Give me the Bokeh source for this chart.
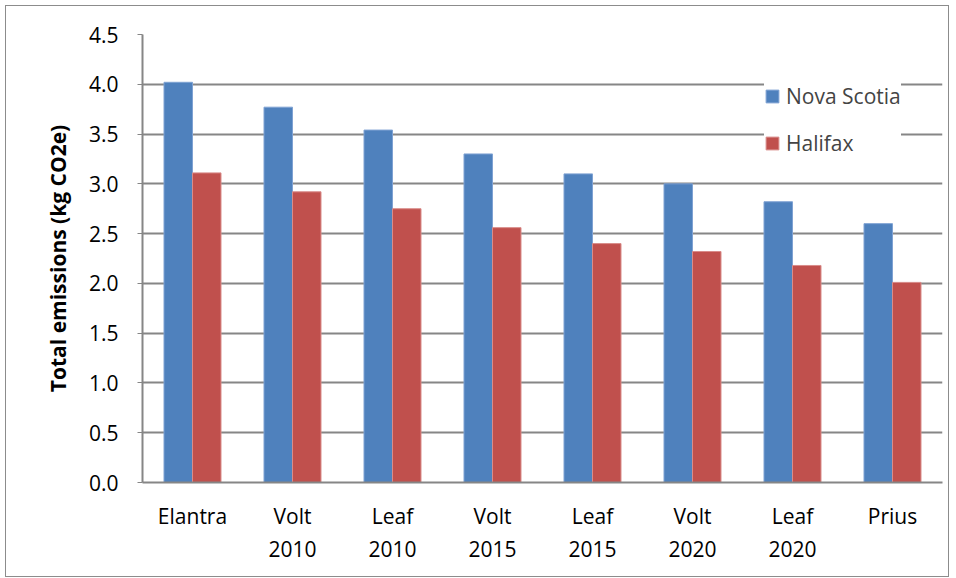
from bokeh.plotting import figure
from bokeh.models import ColumnDataSource, Range1d, FixedTicker, NumeralTickFormatter, Legend, LegendItem
from bokeh.embed import file_html
from bokeh.resources import INLINE

categories = ["Elantra", "Volt\n2010", "Leaf\n2010", "Volt\n2015", "Leaf\n2015", "Volt\n2020", "Leaf\n2020", "Prius"]
nova_scotia = [4.02, 3.77, 3.54, 3.30, 3.10, 3.00, 2.82, 2.60]
halifax = [3.11, 2.92, 2.75, 2.56, 2.40, 2.32, 2.18, 2.01]
y_ticks = [0.0, 0.5, 1.0, 1.5, 2.0, 2.5, 3.0, 3.5, 4.0, 4.5]

FONT = "Open Sans"
BLUE = "#4F81BD"
RED = "#C0504D"

centers = [i + 0.5 for i in range(len(categories))]
bw = 0.285
src = ColumnDataSource(dict(
    xb=[c - bw / 2 for c in centers],
    xr=[c + bw / 2 for c in centers],
    ns=nova_scotia,
    hf=halifax,
))

p = figure(width=944, height=572, output_backend="svg", toolbar_location=None,
           x_range=Range1d(0, len(categories)), y_range=Range1d(0, 4.5),
           min_border_left=136, min_border_right=8, min_border_top=28, min_border_bottom=96)
p.styles = {"border": "1px solid #8c8c8c", "box-sizing": "border-box", "margin": "5px 0 0 5px"}
p.outline_line_color = None
p.background_fill_color = "white"
p.border_fill_color = "white"

rb = p.vbar(x="xb", top="ns", width=bw, bottom=0, source=src, fill_color=BLUE, line_color="#7fa2d3", line_width=1)
rr = p.vbar(x="xr", top="hf", width=bw, bottom=0, source=src, fill_color=RED, line_color="#d98c8a", line_width=1)

# grid
p.xgrid.visible = False
p.ygrid.grid_line_color = "#868686"
p.ygrid.grid_line_width = 2
p.yaxis.ticker = FixedTicker(ticks=y_ticks)
p.yaxis.formatter = NumeralTickFormatter(format="0.0")

# axes
for ax in (p.xaxis, p.yaxis):
    ax.axis_line_color = "#868686"
    ax.axis_line_width = 2
    ax.major_label_text_font = FONT
    ax.major_label_text_font_size = "21px"
    ax.major_label_text_color = "black"
    ax.minor_tick_line_color = None

p.yaxis.major_tick_line_color = "#868686"
p.yaxis.major_tick_in = 0
p.yaxis.major_tick_out = 5
p.yaxis.major_label_standoff = 19
p.yaxis.axis_label = "Total emissions (kg CO2e)"
p.yaxis.axis_label_text_font = FONT
p.yaxis.axis_label_text_font_style = "bold"
p.yaxis.axis_label_text_font_size = "21px"
p.yaxis.axis_label_text_color = "black"
p.yaxis.axis_label_standoff = 14

p.xaxis.ticker = FixedTicker(ticks=centers)
p.xaxis.major_label_overrides = {c: lab for c, lab in zip(centers, categories)}
p.xaxis.major_tick_line_color = None
p.xaxis.major_label_standoff = 13

legend = Legend(items=[LegendItem(label="Nova Scotia", renderers=[rb]),
                       LegendItem(label="Halifax", renderers=[rr])],
                location=(622, 325), border_line_color=None,
                background_fill_color="white", background_fill_alpha=1,
                glyph_width=16, glyph_height=16, label_text_font=FONT,
                label_text_font_size="21px", spacing=19, label_standoff=6,
                padding=13, margin=0)
p.add_layout(legend, "center")

open("out.html", "w").write(file_html(p, INLINE))
